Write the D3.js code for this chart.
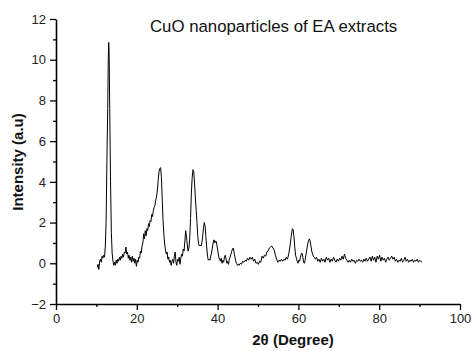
<!DOCTYPE html>
<html><head><meta charset="utf-8">
<script src="https://cdn.jsdelivr.net/npm/d3@7"></script>
<style>
html,body{margin:0;padding:0;background:#fff;}
svg{display:block;font-family:"Liberation Sans",Arial,sans-serif;}
</style></head>
<body><svg id="c" width="473" height="351"></svg>
<script>
const title = "CuO nanoparticles of EA extracts";
const xLabel = "2θ (Degree)";
const yLabel = "Intensity (a.u)";
const xTicks = [0, 20, 40, 60, 80, 100];
const xMinorTicks = [10, 30, 50, 70, 90];
const yTicks = [-2, 0, 2, 4, 6, 8, 10, 12];
const yMinorTicks = [-1, 1, 3, 5, 7, 9, 11];

const twoTheta = [
10.2,10.4,10.6,10.8,11.0,11.2,11.4,11.6,11.8,12.0,12.2,12.4,12.6,12.8,12.95,13.05,13.15,13.3,13.5,13.7,13.9,
14.1,14.3,14.5,14.7,14.9,15.1,15.3,15.5,15.7,15.9,16.1,16.3,16.5,16.7,16.9,17.1,17.3,17.5,17.7,17.9,
18.1,18.3,18.5,18.7,18.9,19.1,19.3,19.5,19.7,19.9,20.1,20.3,20.5,20.7,20.9,21.1,21.3,21.5,21.7,21.9,
22.1,22.3,22.5,22.7,22.9,23.1,23.3,23.5,23.7,23.9,24.1,24.3,24.5,24.7,24.9,25.1,25.3,25.5,25.7,25.9,
26.1,26.3,26.5,26.7,26.9,27.1,27.3,27.5,27.7,27.9,28.1,28.3,28.5,28.7,28.9,29.1,29.3,29.5,29.7,29.9,
30.1,30.3,30.5,30.7,30.9,31.1,31.3,31.5,31.7,31.9,32.1,32.3,32.5,32.7,32.9,33.1,33.3,33.5,33.7,33.9,
34.1,34.3,34.5,34.7,34.9,35.1,35.3,35.5,35.7,35.9,36.1,36.3,36.5,36.7,36.9,37.1,37.3,37.5,37.7,37.9,
38.1,38.3,38.5,38.7,38.9,39.1,39.3,39.5,39.7,39.9,40.1,40.3,40.5,40.7,40.9,41.1,41.3,41.5,41.7,41.9,
42.1,42.3,42.5,42.7,42.9,43.1,43.3,43.5,43.7,43.9,44.1,44.3,44.5,44.7,44.9,45.1,45.3,45.6,45.9,
46.2,46.5,46.8,47.1,47.4,47.7,48.0,48.3,48.6,48.9,49.2,49.5,49.8,50.1,50.4,50.7,51.0,51.3,51.6,51.9,
52.2,52.5,52.8,53.1,53.4,53.7,54.0,54.3,54.6,54.9,55.2,55.5,55.8,56.1,56.4,56.7,57.0,57.3,57.6,57.9,
58.2,58.5,58.7,58.9,59.1,59.3,59.5,59.7,59.9,60.1,60.3,60.5,60.7,60.9,61.1,61.3,61.5,61.7,61.9,
62.1,62.3,62.5,62.7,62.9,63.1,63.3,63.5,63.7,63.9,64.2,64.5,64.8,65.1,65.4,65.7,66.0,66.3,66.6,66.9,
67.2,67.5,67.8,68.1,68.4,68.7,69.0,69.3,69.6,69.9,70.2,70.5,70.8,71.1,71.4,71.7,72.0,72.3,72.6,72.9,
73.2,73.5,73.8,74.1,74.4,74.7,75.0,75.3,75.6,75.9,76.2,76.5,76.8,77.1,77.4,77.7,78.0,78.3,78.6,78.9,
79.2,79.5,79.8,80.1,80.4,80.7,81.0,81.3,81.6,81.9,82.2,82.5,82.8,83.1,83.4,83.7,84.0,84.3,84.6,84.9,
85.2,85.5,85.8,86.1,86.4,86.7,87.0,87.3,87.6,87.9,88.2,88.5,88.8,89.1,89.4,89.7,90.0,90.3,90.6
];
const intensity = [
-0.2,-0.05,-0.3,0.1,0.2,0.05,0.35,0.25,0.4,0.3,0.8,2.0,5.0,7.6,10.1,10.85,10.3,7.6,4.0,1.5,0.5,
0.1,-0.1,0.05,-0.1,0.15,0.0,0.2,0.1,0.3,0.15,0.35,0.25,0.45,0.3,0.55,0.5,0.8,0.45,0.55,0.25,
0.4,0.15,0.3,0.05,0.35,0.1,0.25,0.0,0.2,-0.15,0.15,0.05,0.3,0.25,0.6,0.5,0.85,1.0,1.45,1.2,
1.6,1.35,1.7,1.6,1.95,1.8,2.1,2.05,2.4,2.3,2.6,2.75,2.85,3.1,3.3,3.6,4.1,4.5,4.65,4.7,
4.2,3.1,2.1,1.4,0.95,0.65,0.45,0.55,0.2,0.3,0.05,0.15,-0.1,0.1,0.2,0.0,0.35,0.55,0.05,-0.1,
0.2,0.1,0.3,-0.05,0.25,0.45,0.35,0.7,0.6,1.1,1.6,1.3,0.9,0.6,0.75,1.2,2.2,3.4,4.2,4.6,
4.5,3.9,3.2,2.6,2.0,1.3,0.95,0.85,0.9,0.85,1.0,1.3,1.75,2.0,1.85,1.3,0.8,0.35,0.15,0.2,
0.15,0.35,0.5,0.75,1.0,1.15,1.0,1.1,1.05,0.8,0.55,0.3,0.2,0.1,0.25,0.0,0.15,0.05,0.3,0.4,
0.2,0.0,0.1,-0.05,0.2,0.3,0.45,0.6,0.7,0.75,0.5,0.3,0.1,0.0,-0.1,-0.05,-0.1,0.0,-0.05,
0.1,0.05,0.15,0.1,0.25,0.15,0.3,0.2,0.3,0.1,0.2,0.0,0.05,-0.05,0.1,0.05,0.35,0.25,0.4,0.35,
0.55,0.6,0.75,0.8,0.85,0.75,0.65,0.4,0.2,0.05,0.15,0.1,0.2,0.1,0.2,0.15,0.3,0.2,0.45,0.8,
1.3,1.7,1.65,1.3,0.8,0.4,0.25,0.1,0.0,0.15,0.1,0.3,0.45,0.5,0.3,0.05,0.0,0.2,0.45,
0.7,0.95,1.1,1.2,1.1,0.85,0.6,0.45,0.35,0.3,0.2,0.3,0.1,0.2,0.05,0.25,0.1,0.2,0.05,0.3,
0.15,0.25,0.05,0.2,0.1,0.3,0.15,0.05,0.2,0.1,0.25,0.15,0.35,0.2,0.45,0.25,0.15,0.05,0.15,0.05,
0.2,0.1,0.15,0.0,0.15,0.1,0.2,0.1,0.15,0.05,0.2,0.1,0.25,0.1,0.2,0.3,0.1,0.35,0.15,0.3,
0.05,0.35,0.2,0.4,0.1,0.3,0.15,0.25,0.05,0.2,0.3,0.15,0.25,0.35,0.2,0.3,0.1,0.2,0.05,0.15,
0.1,0.25,0.05,0.15,0.3,0.1,0.2,0.05,0.15,0.1,0.2,0.05,0.15,0.1,0.2,0.05,0.15,0.1,0.05
];

const data = twoTheta.map((t, i) => ({x: t, y: intensity[i]}));

const svg = d3.select("#c");
const x = d3.scaleLinear().domain([0, 100]).range([56, 460]);
const y = d3.scaleLinear().domain([-2, 12]).range([304, 19]);

function styleAxis(g){
  g.select(".domain").attr("stroke", "#000").attr("stroke-width", 1.6);
  g.selectAll(".tick line").attr("stroke", "#000").attr("stroke-width", 1.3);
  g.selectAll(".tick text").attr("fill", "#222").style("font-size", "13px")
    .style("font-family", "'Liberation Sans', Arial, sans-serif");
}

// minor ticks
svg.append("g").attr("transform", "translate(0,304)")
  .call(d3.axisBottom(x).tickValues(xMinorTicks).tickSize(3).tickFormat(""))
  .call(g => { g.select(".domain").remove(); g.selectAll(".tick line").attr("stroke","#000").attr("stroke-width",1.3); });
svg.append("g").attr("transform", "translate(56,0)")
  .call(d3.axisLeft(y).tickValues(yMinorTicks).tickSize(3).tickFormat(""))
  .call(g => { g.select(".domain").remove(); g.selectAll(".tick line").attr("stroke","#000").attr("stroke-width",1.3); });

// major axes
svg.append("g").attr("transform", "translate(0,304)")
  .call(d3.axisBottom(x).tickValues(xTicks).tickSize(6).tickSizeOuter(0).tickPadding(4).tickFormat(d3.format("d")))
  .call(styleAxis);
svg.append("g").attr("transform", "translate(56,0)")
  .call(d3.axisLeft(y).tickValues(yTicks).tickSize(6).tickSizeOuter(0).tickPadding(4).tickFormat(d3.format("d")))
  .call(styleAxis);

// curve
const line = d3.line().x(d => x(d.x)).y(d => y(d.y));
svg.append("path").datum(data).attr("d", line)
  .attr("fill", "none").attr("stroke", "#000").attr("stroke-width", 1).attr("stroke-linejoin", "round");

// title
svg.append("text").attr("x", 150).attr("y", 32).text(title)
  .style("font-size", "16.8px").attr("fill", "#111");

// axis labels
svg.append("text").attr("x", 293).attr("y", 345).attr("text-anchor", "middle")
  .text(xLabel).style("font-size", "15px").style("font-weight", "bold").attr("fill", "#111");
svg.append("text").attr("transform", "translate(23,162) rotate(-90)").attr("text-anchor", "middle")
  .text(yLabel).style("font-size", "15px").style("font-weight", "bold").attr("fill", "#111");
</script></body></html>
